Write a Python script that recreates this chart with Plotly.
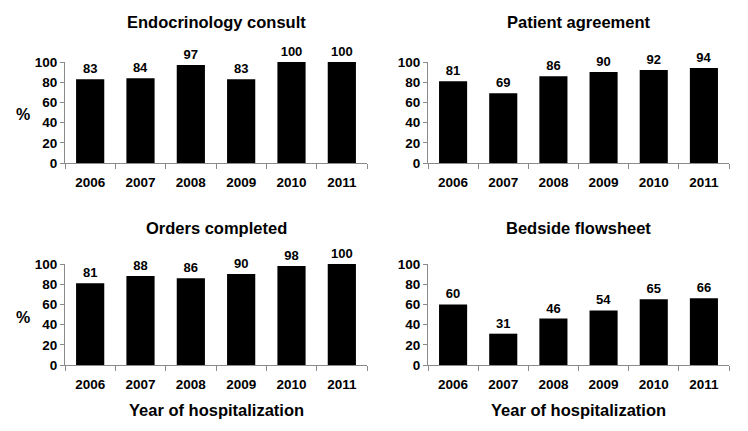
import plotly.graph_objects as go

years = ["2006", "2007", "2008", "2009", "2010", "2011"]
endocrinology_consult = [83, 84, 97, 83, 100, 100]
patient_agreement = [81, 69, 86, 90, 92, 94]
orders_completed = [81, 88, 86, 90, 98, 100]
bedside_flowsheet = [60, 31, 46, 54, 65, 66]
panel_titles = ["Endocrinology consult", "Patient agreement", "Orders completed", "Bedside flowsheet"]
y_ticks = [0, 20, 40, 60, 80, 100]

W, H = 748, 431
FONT = "Liberation Sans, Arial, sans-serif"

def px_x(a, b):
    return [a / W, b / W]

def px_y(top, bottom):
    return [(H - bottom) / H, (H - top) / H]

panels = [
    (endocrinology_consult, px_x(65, 367), px_y(62, 163)),
    (patient_agreement, px_x(428, 729), px_y(62, 163)),
    (orders_completed, px_x(65, 367), px_y(264, 365)),
    (bedside_flowsheet, px_x(428, 729), px_y(264, 365)),
]

fig = go.Figure()
layout = dict(
    template="none",
    width=W, height=H,
    margin=dict(l=0, r=0, t=0, b=0, pad=0),
    plot_bgcolor="white", paper_bgcolor="white",
    showlegend=False, bargap=0.44,
    font=dict(family=FONT, color="black"),
)
annotations = []
for i, (vals, xd, yd) in enumerate(panels):
    n = i + 1
    xa = "x" if n == 1 else f"x{n}"
    ya = "y" if n == 1 else f"y{n}"
    fig.add_trace(go.Bar(
        x=years, y=vals, xaxis=xa, yaxis=ya,
        marker=dict(color="black", line=dict(width=0)),
        text=[str(v) for v in vals], textposition="outside",
        textfont=dict(family=FONT, size=13, color="black", weight="bold"),
        cliponaxis=False,
    ))
    xkey = "xaxis" if n == 1 else f"xaxis{n}"
    ykey = "yaxis" if n == 1 else f"yaxis{n}"
    layout[xkey] = dict(
        domain=xd, anchor=ya, type="category", automargin=False,
        showline=True, linecolor="#8a8a8a", linewidth=1,
        ticks="outside", tickson="boundaries", ticklen=5, tickcolor="#8a8a8a",
        tickfont=dict(family=FONT, size=13.5, color="black", weight="bold"),
        ticklabelstandoff=7,
        showgrid=False, zeroline=False,
    )
    layout[ykey] = dict(
        domain=yd, anchor=xa, range=[0, 100], automargin=False,
        tickvals=y_ticks,
        showline=True, linecolor="#8a8a8a", linewidth=1,
        ticks="outside", ticklen=4, tickcolor="#8a8a8a",
        tickfont=dict(family=FONT, size=13.5, color="black", weight="bold"),
        showgrid=False, zeroline=False,
    )
    annotations.append(dict(
        text=f"<b>{panel_titles[i]}</b>", xref="paper", yref="paper",
        x=(xd[0] + xd[1]) / 2, y=(H - (22 if n <= 2 else 228)) / H,
        xanchor="center", yanchor="middle", showarrow=False,
        font=dict(family=FONT, size=16.5, color="black"),
    ))

for yc in (115, 317):
    annotations.append(dict(
        text="<b>%</b>", xref="paper", yref="paper",
        x=23 / W, y=(H - yc) / H, xanchor="center", yanchor="middle",
        showarrow=False, font=dict(family=FONT, size=16, color="black"),
    ))
for xc in (216, 578):
    annotations.append(dict(
        text="<b>Year of hospitalization</b>", xref="paper", yref="paper",
        x=xc / W, y=(H - 410) / H, xanchor="center", yanchor="middle",
        showarrow=False, font=dict(family=FONT, size=16.5, color="black"),
    ))
layout["annotations"] = annotations
fig.update_layout(**layout)
fig.write_html("out.html", config={"displayModeBar": False},
               post_script="document.body.style.margin='0';")
